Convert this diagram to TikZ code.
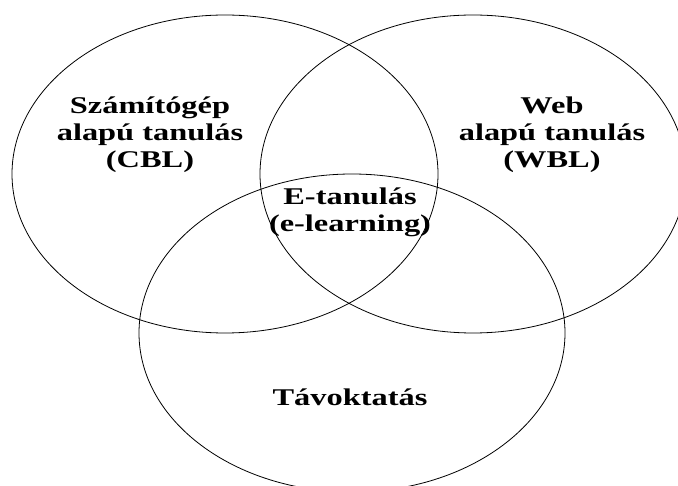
\documentclass[tikz,border=0pt]{standalone}
\usepackage{fontspec}
\setmainfont{Liberation Serif}[FakeStretch=1.35]

\begin{document}
\begin{tikzpicture}[x=1pt,y=-1pt,every node/.append style={align=center,font=\bfseries\fontsize{24}{27}\selectfont}]
    \useasboundingbox (0,0) rectangle (678,486);
    \clip (0,0) rectangle (678,486);
    \begin{scope}[every path/.append style={line width=0.8pt}]
      \draw (225,174) ellipse [x radius=213pt, y radius=159pt];
      \draw (473,174) ellipse [x radius=213pt, y radius=159pt];
      \draw (352,333) ellipse [x radius=213pt, y radius=159pt];
    \end{scope}
    \node (cbl)    at (150,135)  {Számítógép \\ alapú tanulás \\ (CBL)};
    \node (wbl)    at (552,135)  {Web \\ alapú tanulás \\ (WBL)};
    \node (elearn) at (350,212)  {E-tanulás \\ (e-learning)};
    \node (tavok)  at (350,397)  {Távoktatás};
  \end{tikzpicture}
\end{document}
